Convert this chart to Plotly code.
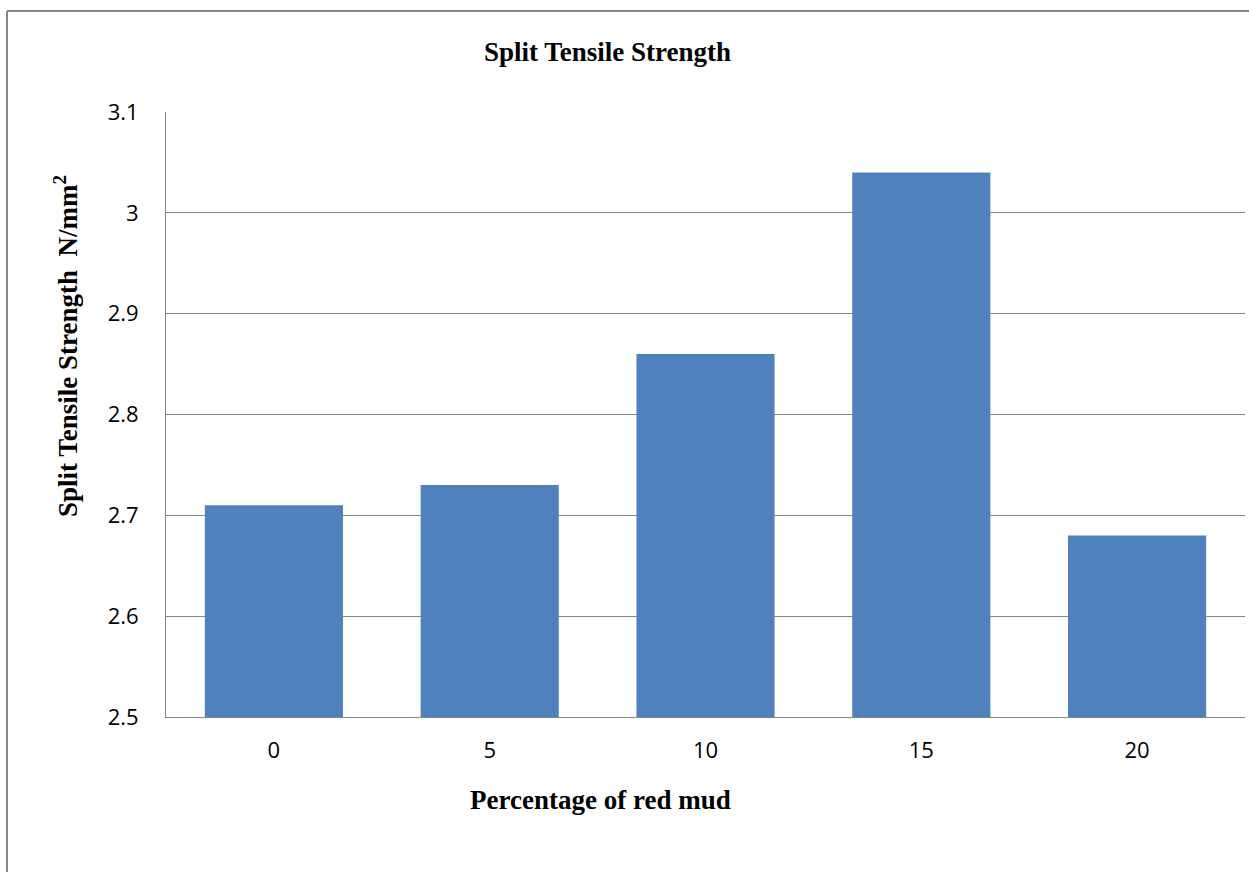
import plotly.graph_objects as go

categories = ["0", "5", "10", "15", "20"]
values = [2.71, 2.73, 2.86, 3.04, 2.68]
y_ticks = [2.5, 2.6, 2.7, 2.8, 2.9, 3.0, 3.1]
y_tick_labels = ["2.5", "2.6", "2.7", "2.8", "2.9", "3", "3.1"]

W, H = 1249, 872
L, R, T, B = 166, 4, 112, 155
pw, ph = W - L - R, H - T - B

def px(x):
    return (x - L) / pw

def py(y):
    return (H - B - y) / ph

fig = go.Figure(go.Bar(x=categories, y=values, marker=dict(color="#4F81BD", line=dict(width=0)),
                       width=0.64))

fig.update_layout(
    width=W, height=H, margin=dict(l=L, r=R, t=T, b=B),
    paper_bgcolor="white", plot_bgcolor="white", showlegend=False,
    font=dict(family="Open Sans", size=22, color="black"),
    xaxis=dict(type="category", showgrid=False, showline=True, linecolor="#868686", linewidth=1,
               ticks="", tickfont=dict(size=22), ticklabelstandoff=14),
    yaxis=dict(range=[2.5, 3.1], tickvals=y_ticks, ticktext=y_tick_labels, showgrid=True,
               gridcolor="#868686", gridwidth=1, showline=True, linecolor="#868686", linewidth=1,
               ticks="", tickfont=dict(size=22), zeroline=False, ticklabelstandoff=22),
    annotations=[
        dict(text="<b>Split Tensile Strength</b>", x=px(607), y=py(52), xref="paper", yref="paper",
             showarrow=False, font=dict(family="Liberation Serif", size=27), xanchor="center", yanchor="middle"),
        dict(text="<b>Percentage of red mud</b>", x=px(600), y=py(800), xref="paper", yref="paper",
             showarrow=False, font=dict(family="Liberation Serif", size=27), xanchor="center", yanchor="middle"),
        dict(text="<b>Split Tensile Strength  N/mm<sup>2</sup></b>", x=px(66), y=py(346), xref="paper", yref="paper",
             showarrow=False, textangle=-90, font=dict(family="Liberation Serif", size=27),
             xanchor="center", yanchor="middle"),
    ],
    shapes=[
        dict(type="line", xref="paper", yref="paper", x0=px(7), x1=px(7), y0=py(11), y1=py(880),
             line=dict(color="#868686", width=2)),
        dict(type="line", xref="paper", yref="paper", x0=px(7), x1=px(1260), y0=py(11), y1=py(11),
             line=dict(color="#868686", width=2)),
    ],
)

fig.write_html("out.html")
